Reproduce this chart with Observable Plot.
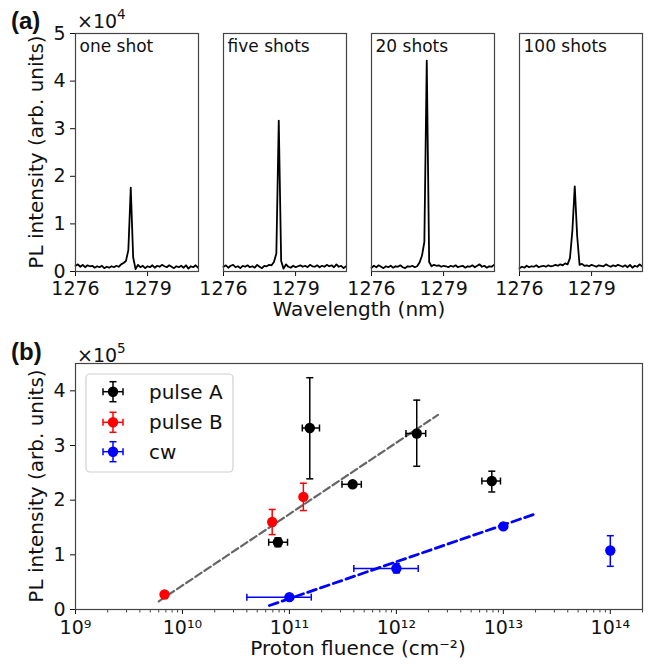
<!DOCTYPE html>
<html><head><meta charset="utf-8">
<script src="https://cdn.jsdelivr.net/npm/d3@7"></script>
<script src="https://cdn.jsdelivr.net/npm/@observablehq/plot@0.6"></script>
<style>
body{margin:0;background:#fff;}
#wrap{position:relative;width:654px;height:671px;font-family:"DejaVu Sans",sans-serif;overflow:hidden;}
#wrap > svg{position:absolute;left:0;}
</style></head><body><div id="wrap"></div>
<script>
// ---------- (a) spectra ----------
const panels = ["one shot", "five shots", "20 shots", "100 shots"];
const wavelength = [1276.0,1276.1,1276.2,1276.3,1276.4,1276.5,1276.6,1276.7,1276.8,1276.9,
  1277.0,1277.1,1277.2,1277.3,1277.4,1277.5,1277.6,1277.7,1277.8,1277.9,
  1278.0,1278.1,1278.2,1278.3,1278.4,1278.5,1278.6,1278.7,1278.8,1278.9,
  1279.0,1279.1,1279.2,1279.3,1279.4,1279.5,1279.6,1279.7,1279.8,1279.9,
  1280.0,1280.1,1280.2,1280.3,1280.4,1280.5,1280.6,1280.7,1280.8,1280.9,
  1281.0,1281.1];
// intensities in units of 1e4
const specOneShot = [0.12,0.15,0.10,0.14,0.09,0.13,0.11,0.12,0.08,0.11,0.09,0.12,0.07,0.10,0.08,0.11,0.09,0.12,0.10,0.15,0.18,0.22,0.45,1.76,0.30,0.05,0.14,0.09,0.12,0.07,0.11,0.09,0.13,0.08,0.12,0.10,0.14,0.11,0.09,0.13,0.10,0.07,0.11,0.09,0.12,0.08,0.13,0.06,0.11,0.09,0.13,0.08];
const specFiveShots = [0.10,0.13,0.08,0.12,0.14,0.09,0.11,0.07,0.12,0.10,0.13,0.09,0.11,0.08,0.14,0.10,0.07,0.12,0.11,0.14,0.13,0.20,0.38,3.17,0.22,0.06,0.15,0.10,0.08,0.12,0.09,0.11,0.13,0.10,0.12,0.09,0.14,0.11,0.10,0.13,0.09,0.12,0.10,0.14,0.11,0.13,0.09,0.15,0.10,0.12,0.07,0.11];
const spec20Shots = [0.08,0.12,0.09,0.13,0.10,0.07,0.11,0.09,0.12,0.08,0.11,0.10,0.13,0.09,0.07,0.11,0.10,0.12,0.09,0.11,0.19,0.33,0.62,4.43,0.20,0.11,0.14,0.12,0.13,0.10,0.12,0.11,0.09,0.12,0.10,0.13,0.09,0.11,0.12,0.08,0.11,0.10,0.13,0.09,0.12,0.15,0.10,0.12,0.08,0.11,0.10,0.14];
const spec100Shots = [0.07,0.10,0.08,0.12,0.09,0.11,0.10,0.13,0.09,0.11,0.12,0.10,0.13,0.11,0.12,0.14,0.12,0.15,0.13,0.17,0.15,0.28,0.85,1.79,0.75,0.14,0.16,0.12,0.13,0.11,0.14,0.12,0.10,0.13,0.12,0.11,0.15,0.12,0.10,0.13,0.11,0.14,0.12,0.10,0.13,0.09,0.14,0.08,0.12,0.10,0.15,0.11];
const spectra = [specOneShot, specFiveShots, spec20Shots, spec100Shots];
const specYTicks = [0, 1, 2, 3, 4, 5];
const specXTicks = [1276, 1279];

// ---------- (b) fluence dependence (intensity in units of 1e5) ----------
const aFluence   = [7.8e10, 1.55e11, 3.9e11, 1.55e12, 7.8e12];
const aFluenceLo = [6.4e10, 1.32e11, 3.1e11, 1.23e12, 6.3e12];
const aFluenceHi = [9.6e10, 1.91e11, 4.7e11, 1.88e12, 9.4e12];
const aPL   = [1.23, 3.32, 2.29, 3.22, 2.35];
const aPLLo = [1.15, 2.39, 2.24, 2.62, 2.15];
const aPLHi = [1.31, 4.24, 2.34, 3.83, 2.53];

const bFluence   = [6.8e9, 6.9e10, 1.35e11];
const bFluenceLo = [6.8e9, 6.9e10, 1.35e11];
const bFluenceHi = [6.8e9, 6.9e10, 1.35e11];
const bPL   = [0.275, 1.60, 2.06];
const bPLLo = [0.26, 1.37, 1.81];
const bPLHi = [0.29, 1.83, 2.31];

const cwFluence   = [1e11, 1e12, 1e13, 1e14];
const cwFluenceLo = [4e10, 4e11, 1e13, 1e14];
const cwFluenceHi = [1.6e11, 1.6e12, 1e13, 1e14];
const cwPL   = [0.226, 0.75, 1.52, 1.08];
const cwPLLo = [0.21, 0.67, 1.50, 0.79];
const cwPLHi = [0.24, 0.84, 1.54, 1.35];

const fitPulseFluence = [6.0e9, 2.45e12];
const fitPulsePL = [0.15, 3.56];
const fitCwFluence = [6.5e10, 2.04e13];
const fitCwPL = [0.073, 1.756];

const fluenceTicks = [1e9, 1e10, 1e11, 1e12, 1e13, 1e14];
const minorMultiples = [2, 3, 4, 5, 6, 7, 8, 9];
const plTicks = [0, 1, 2, 3, 4];

// ---------- build ----------
const FONT = "DejaVu Sans";
const AX = "#444";
const wrap = document.getElementById("wrap");

const specRows = panels.flatMap((p, i) => wavelength.map((w, j) => ({panel: p, wl: w, v: spectra[i][j]})));

const topPlot = Plot.plot({
  width: 654, height: 300,
  marginLeft: 75, marginRight: 11, marginTop: 33, marginBottom: 29,
  style: {fontFamily: FONT, fontSize: "19px", color: "#111", background: "transparent"},
  fx: {domain: panels, paddingInner: 0.167, paddingOuter: 0, axis: null, label: null},
  x: {domain: [1276, 1281.12]},
  y: {domain: [0, 5]},
  marks: [
    Plot.axisY({ticks: specYTicks, tickSize: 5, tickPadding: 5, label: null, fontSize: 19, tickFormat: d3.format("d")}),
    Plot.axisX({ticks: specXTicks, tickSize: 5, tickPadding: 5, label: null, fontSize: 19, tickFormat: d3.format("d")}),
    Plot.line(specRows, {fx: "panel", x: "wl", y: "v", stroke: "#000", strokeWidth: 1.8}),
    Plot.frame({stroke: AX, strokeWidth: 1.2}),
    Plot.text(panels, {fx: d => d, text: d => d, frameAnchor: "top-left", lineAnchor: "top", dx: 4, dy: 6, fontSize: 17, fill: "#111"})
  ]
});
topPlot.style.top = "0px";
wrap.appendChild(topPlot);

const hbar = {draw(ctx, size) { const w = Math.sqrt(size / Math.PI); ctx.moveTo(-w, 0); ctx.lineTo(w, 0); }};
const vbar = {draw(ctx, size) { const w = Math.sqrt(size / Math.PI); ctx.moveTo(0, -w); ctx.lineTo(0, w); }};

function rows(fx, flo, fhi, py, plo, phi) {
  return fx.map((x, i) => ({x, xlo: flo[i], xhi: fhi[i], y: py[i], ylo: plo[i], yhi: phi[i]}));
}
const series = [
  {name: "pulse A", color: "#000000", data: rows(aFluence, aFluenceLo, aFluenceHi, aPL, aPLLo, aPLHi)},
  {name: "pulse B", color: "#ff0000", data: rows(bFluence, bFluenceLo, bFluenceHi, bPL, bPLLo, bPLHi)},
  {name: "cw", color: "#0000ff", data: rows(cwFluence, cwFluenceLo, cwFluenceHi, cwPL, cwPLLo, cwPLHi)}
];
const fitPulse = fitPulseFluence.map((x, i) => ({x, y: fitPulsePL[i]}));
const fitCw = fitCwFluence.map((x, i) => ({x, y: fitCwPL[i]}));

const minorTicks = fluenceTicks.flatMap(d => minorMultiples.map(m => m * d)).filter(v => v <= 2e14);
const supMap = {"0":"⁰","1":"¹","2":"²","3":"³","4":"⁴","5":"⁵","6":"⁶","7":"⁷","8":"⁸","9":"⁹"};
const powFmt = d => "10" + String(Math.round(Math.log10(d))).split("").map(c => supMap[c]).join("");

const seriesMarks = series.flatMap(s => {
  const xe = s.data.filter(d => d.xhi > d.xlo);
  const ye = s.data.filter(d => d.yhi > d.ylo);
  return [
    Plot.ruleY(xe, {y: "y", x1: "xlo", x2: "xhi", stroke: s.color, strokeWidth: 1.5}),
    Plot.ruleX(ye, {x: "x", y1: "ylo", y2: "yhi", stroke: s.color, strokeWidth: 1.5}),
    Plot.dot(xe, {x: "xlo", y: "y", symbol: vbar, r: 3.5, stroke: s.color, strokeWidth: 1.5, fill: "none"}),
    Plot.dot(xe, {x: "xhi", y: "y", symbol: vbar, r: 3.5, stroke: s.color, strokeWidth: 1.5, fill: "none"}),
    Plot.dot(ye, {x: "x", y: "ylo", symbol: hbar, r: 3.5, stroke: s.color, strokeWidth: 1.5, fill: "none"}),
    Plot.dot(ye, {x: "x", y: "yhi", symbol: hbar, r: 3.5, stroke: s.color, strokeWidth: 1.5, fill: "none"}),
    Plot.dot(s.data, {x: "x", y: "y", r: 5.2, fill: s.color, stroke: "none"})
  ];
});

const bottomPlot = Plot.plot({
  width: 654, height: 341,
  marginLeft: 75, marginRight: 12, marginTop: 33, marginBottom: 62,
  style: {fontFamily: FONT, fontSize: "19px", color: "#111", background: "transparent"},
  x: {type: "log", domain: [1e9, 2e14]},
  y: {domain: [0, 4.5]},
  marks: [
    Plot.axisY({ticks: plTicks, tickSize: 5, tickPadding: 5, label: null, fontSize: 19, tickFormat: d3.format("d")}),
    Plot.tickX(minorTicks, {x: d => d, frameAnchor: "bottom", stroke: AX, strokeWidth: 1, dy: 0}),
    Plot.axisX({ticks: fluenceTicks, tickSize: 5, tickPadding: 6, label: null, fontSize: 19, tickFormat: powFmt}),
    Plot.line(fitPulse, {x: "x", y: "y", stroke: "#666666", strokeWidth: 2.2, strokeDasharray: "7.5,3.5"}),
    Plot.line(fitCw, {x: "x", y: "y", stroke: "#0000ff", strokeWidth: 2.8, strokeDasharray: "9,4.5"}),
    ...seriesMarks,
    Plot.frame({stroke: AX, strokeWidth: 1.2})
  ]
});
bottomPlot.style.top = "330px";
wrap.appendChild(bottomPlot);
// minor ticks: shorten the tickX lines to small outward marks below the frame
d3.select(bottomPlot).selectAll("g[aria-label='tick'] line").each(function() {
  const el = d3.select(this);
  const y2 = +el.attr("y2");
  el.attr("y1", y2).attr("y2", y2 + 3.5);
});

// ---------- overlay: panel letters, offsets, axis titles, legend ----------
const ov = d3.create("svg").attr("width", 654).attr("height", 671)
  .style("top", "0px").style("font-family", FONT).style("fill", "#111");
ov.append("text").attr("x", 11).attr("y", 29).attr("font-family", "Liberation Sans")
  .attr("font-weight", "bold").attr("font-size", 24).text("(a)");
ov.append("text").attr("x", 11).attr("y", 360).attr("font-family", "Liberation Sans")
  .attr("font-weight", "bold").attr("font-size", 24).text("(b)");
function offsetText(x, y, exp) {
  const t = ov.append("text").attr("x", x).attr("y", y).attr("font-size", 19);
  t.append("tspan").text("×10");
  t.append("tspan").attr("dy", -9).attr("font-size", 13.5).text(exp);
}
offsetText(77, 28, "4");
offsetText(77, 362, "5");
ov.append("text").attr("transform", "translate(43,152) rotate(-90)").attr("text-anchor", "middle")
  .attr("font-size", 20).text("PL intensity (arb. units)");
ov.append("text").attr("transform", "translate(43,486) rotate(-90)").attr("text-anchor", "middle")
  .attr("font-size", 20).text("PL intensity (arb. units)");
ov.append("text").attr("x", 359).attr("y", 316).attr("text-anchor", "middle")
  .attr("font-size", 20).text("Wavelength (nm)");
ov.append("text").attr("x", 358).attr("y", 655).attr("text-anchor", "middle")
  .attr("font-size", 20).text("Proton fluence (cm⁻²)");

// legend
ov.append("rect").attr("x", 86).attr("y", 374).attr("width", 147).attr("height", 98)
  .attr("rx", 4).attr("fill", "#fff").attr("fill-opacity", 0.8).attr("stroke", "#d0d0d0").attr("stroke-width", 1.2);
const legY = [391.7, 422.3, 451.7];
series.forEach((s, i) => {
  const g = ov.append("g").attr("transform", `translate(113,${legY[i]})`).attr("stroke", s.color).attr("stroke-width", 1.5);
  g.append("line").attr("x1", -10).attr("x2", 10);
  g.append("line").attr("y1", -10).attr("y2", 10);
  g.append("line").attr("x1", -10).attr("x2", -10).attr("y1", -3.5).attr("y2", 3.5);
  g.append("line").attr("x1", 10).attr("x2", 10).attr("y1", -3.5).attr("y2", 3.5);
  g.append("line").attr("y1", -10).attr("y2", -10).attr("x1", -3.5).attr("x2", 3.5);
  g.append("line").attr("y1", 10).attr("y2", 10).attr("x1", -3.5).attr("x2", 3.5);
  g.append("circle").attr("r", 5.2).attr("fill", s.color).attr("stroke", "none");
  ov.append("text").attr("x", 149).attr("y", legY[i] + 7).attr("font-size", 20).text(s.name);
});
wrap.appendChild(ov.node());
</script></body></html>
